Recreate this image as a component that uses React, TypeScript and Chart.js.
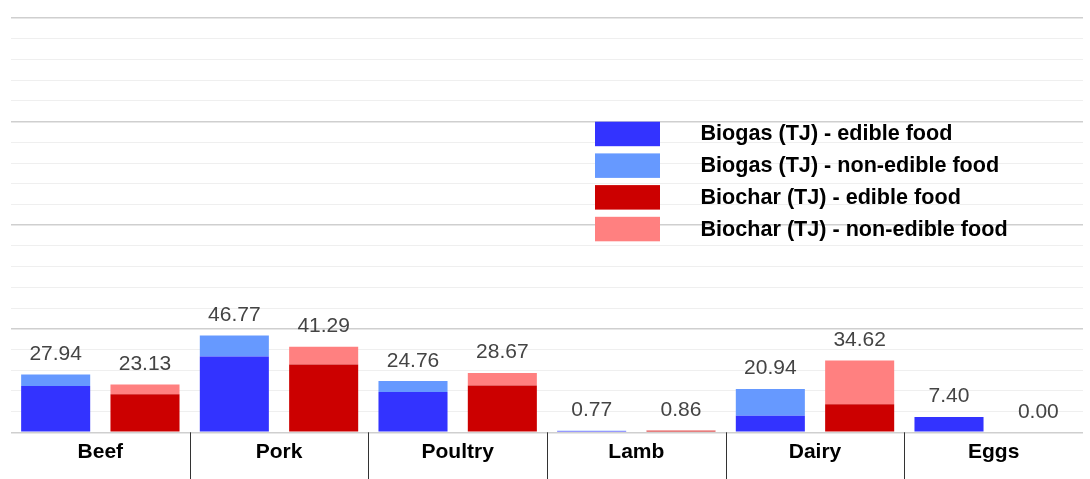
import React, { useEffect, useRef } from "react";
import { Chart, registerables } from "chart.js";

Chart.register(...registerables);

const categories = ["Beef", "Pork", "Poultry", "Lamb", "Dairy", "Eggs"];
const biogasEdible = [22.3, 36.6, 19.5, 0.6, 8.0, 7.4];
const biogasNonEdible = [5.64, 10.17, 5.26, 0.17, 12.94, 0];
const biocharEdible = [18.4, 32.7, 22.6, 0.7, 13.55, 0];
const biocharNonEdible = [4.73, 8.59, 6.07, 0.16, 21.07, 0];
const seriesLabels = [
  "Biogas (TJ) - edible food",
  "Biogas (TJ) - non-edible food",
  "Biochar (TJ) - edible food",
  "Biochar (TJ) - non-edible food",
];
const seriesColors = ["#3333ff", "#6699ff", "#cc0000", "#ff8080"];
const yMax = 200;
const yStep = 10;
const yMajor = 50;

const FONT = "'Liberation Sans', Arial, sans-serif";

const totalsPlugin = {
  id: "totals",
  afterDatasetsDraw(chart: any) {
    const ctx = chart.ctx;
    const stacks: Record<string, number[]> = {};
    chart.data.datasets.forEach((ds: any, i: number) => {
      (stacks[ds.stack] = stacks[ds.stack] || []).push(i);
    });
    ctx.save();
    ctx.font = `21px ${FONT}`;
    ctx.fillStyle = "#444444";
    ctx.textAlign = "center";
    ctx.textBaseline = "alphabetic";
    const yScale = chart.scales.y;
    Object.values(stacks).forEach((idxs) => {
      categories.forEach((_, j) => {
        let total = 0;
        idxs.forEach((i) => (total += chart.data.datasets[i].data[j]));
        const el = chart.getDatasetMeta(idxs[0]).data[j];
        const y = yScale.getPixelForValue(total);
        ctx.fillText(total.toFixed(2), el.x, y - 14.5);
      });
    });
    ctx.restore();
  },
};

const separatorsPlugin = {
  id: "separators",
  afterDraw(chart: any) {
    const ctx = chart.ctx;
    const x = chart.scales.x;
    ctx.save();
    ctx.strokeStyle = "#333333";
    ctx.lineWidth = 1;
    for (let i = 1; i < categories.length; i++) {
      const px = Math.round((x.getPixelForTick(i - 1) + x.getPixelForTick(i)) / 2) + 0.5;
      ctx.beginPath();
      ctx.moveTo(px, chart.chartArea.bottom);
      ctx.lineTo(px, chart.height);
      ctx.stroke();
    }
    ctx.restore();
  },
};

const legendPlugin = {
  id: "innerLegend",
  afterDraw(chart: any) {
    const ctx = chart.ctx;
    ctx.save();
    ctx.font = `bold 21.6px ${FONT}`;
    ctx.textBaseline = "middle";
    ctx.textAlign = "left";
    chart.data.datasets.forEach((ds: any, i: number) => {
      const top = 121.7 + i * 31.7;
      ctx.fillStyle = ds.backgroundColor;
      ctx.fillRect(595, top, 65, 24.5);
      ctx.fillStyle = "#000000";
      ctx.fillText(ds.label, 700.5, top + 12.8);
    });
    ctx.restore();
  },
};

export default function App() {
  const ref = useRef<HTMLCanvasElement>(null);
  useEffect(() => {
    document.body.style.margin = "0";
    document.body.style.overflow = "hidden";
    const values = [biogasEdible, biogasNonEdible, biocharEdible, biocharNonEdible];
    const stackIds = ["biogas", "biogas", "biochar", "biochar"];
    const chart = new Chart(ref.current as HTMLCanvasElement, {
      type: "bar",
      data: {
        labels: categories,
        datasets: values.map((v, i) => ({
          label: seriesLabels[i],
          data: v,
          backgroundColor: seriesColors[i],
          stack: stackIds[i],
          borderWidth: 0,
          categoryPercentage: 1.0,
          barPercentage: 0.773,
        })),
      },
      options: {
        responsive: false,
        animation: false,
        layout: { padding: { left: 11, right: 7, top: 18, bottom: 7.5 } },
        plugins: {
          legend: { display: false },
          tooltip: { enabled: false },
        },
        scales: {
          x: {
            stacked: true,
            grid: { display: false, drawTicks: false },
            border: { display: false },
            ticks: {
              padding: 7,
              color: "#000000",
              font: { family: FONT, size: 21, weight: "bold" },
            },
          },
          y: {
            stacked: true,
            min: 0,
            max: yMax,
            border: { display: false },
            ticks: { display: false, stepSize: yStep },
            grid: {
              drawTicks: false,
              color: (c: any) => (c.tick && c.tick.value % yMajor === 0 ? "#cfcfcf" : "#efefef"),
              lineWidth: (c: any) => (c.tick && c.tick.value % yMajor === 0 ? 1.5 : 1),
            },
          },
        },
      },
      plugins: [totalsPlugin, separatorsPlugin, legendPlugin],
    });
    return () => chart.destroy();
  }, []);
  return <canvas ref={ref} width={1090} height={479} />;
}
